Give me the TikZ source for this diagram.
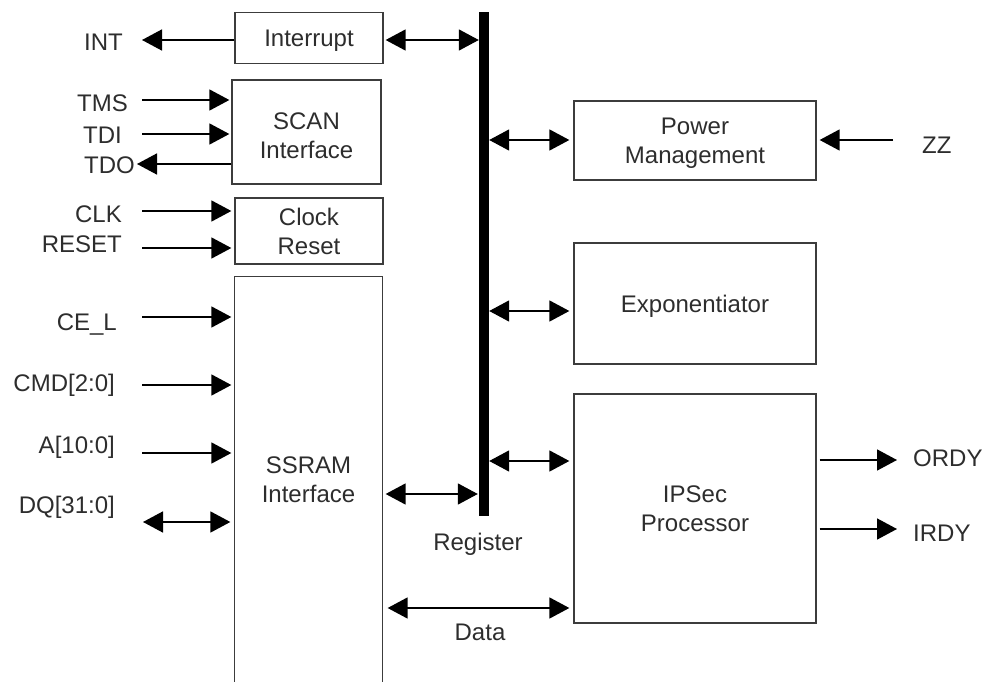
\documentclass[tikz,border=0pt]{standalone}
\usepackage{fontspec}
\setmainfont{Liberation Sans}
\usetikzlibrary{arrows.meta}
\definecolor{txt}{RGB}{45,45,45}
\definecolor{edge}{RGB}{60,60,60}
\tikzset{
  blk/.style={draw=edge, line width=1.3pt, rectangle, inner sep=0pt, align=center, text=txt, font=\fontsize{24}{29}\selectfont, text height=17.2pt, text depth=0pt},
  blk2/.style={blk, text height=46.2pt},
  lbl/.style={inner sep=0pt, text=txt, font=\fontsize{24}{29}\selectfont},
  sig/.style={line width=1.6pt, -{Triangle[length=20pt,width=21pt]}},
  bidir/.style={line width=1.6pt, {Triangle[length=20pt,width=21pt]}-{Triangle[length=20pt,width=21pt]}},
}
\begin{document}
\begin{tikzpicture}[x=1pt,y=-1pt]
\useasboundingbox (0,0) rectangle (989,682);

% blocks
\node[blk, minimum width=148pt, minimum height=51pt] (intr) at (309,38) {Interrupt};
\node[blk2, text height=54pt, minimum width=149pt, minimum height=104pt] (scan) at (306.5,132) {SCAN\\Interface};
\node[blk2, minimum width=148pt, minimum height=66pt] (clk) at (309,231) {Clock\\Reset};
\node[blk2, draw=none, minimum width=147pt, minimum height=405pt] (ssram) at (308.5,479.5) {SSRAM\\Interface};
\draw[edge, line width=1.3pt] (ssram.south west) -- (ssram.north west) -- (ssram.north east) -- (ssram.south east);
\node[blk2, minimum width=242pt, minimum height=79pt] (pow) at (695,140.5) {Power\\Management};
\node[blk, minimum width=242pt, minimum height=121pt] (expo) at (695,303.5) {Exponentiator};
\node[blk2, minimum width=242pt, minimum height=229pt] (ips) at (695,508.5) {IPSec\\Processor};
\node[fill=black, inner sep=0pt, minimum width=10pt, minimum height=504pt] (bus) at (484,264) {};

% labels
\node[lbl, anchor=base east] (lint) at (123,50.5) {INT};
\node[lbl, anchor=base east] (ltms) at (128,111.6) {TMS};
\node[lbl, anchor=base east] (ltdi) at (122,143.6) {TDI};
\node[lbl, anchor=base east] (ltdo) at (135,173.6) {TDO};
\node[lbl, anchor=base east] (lclk) at (122,222.6) {CLK};
\node[lbl, anchor=base east] (lrst) at (122,252.6) {RESET};
\node[lbl, anchor=base east] (lce) at (117,330) {CE\_L};
\node[lbl, anchor=base east] (lcmd) at (115,391) {CMD[2:0]};
\node[lbl, anchor=base east] (la) at (115,453.6) {A[10:0]};
\node[lbl, anchor=base east] (ldq) at (115,513.6) {DQ[31:0]};
\node[lbl, anchor=base west] (lzz) at (922,153.6) {ZZ};
\node[lbl, anchor=base west] (lordy) at (913,466) {ORDY};
\node[lbl, anchor=base west] (lirdy) at (913,541.6) {IRDY};
\node[lbl, anchor=base] (lreg) at (478,550.6) {Register};
\node[lbl, anchor=base] (ldata) at (480,640.6) {Data};

% free ends / levels
\coordinate (intT) at (142,40);
\coordinate (tms) at (142,100);
\coordinate (tdi) at (142,134);
\coordinate (tdo) at (137,164);
\coordinate (ck) at (142,211);
\coordinate (rs) at (142,248);
\coordinate (ce) at (142,317);
\coordinate (cmd) at (142,385);
\coordinate (aa) at (142,453);
\coordinate (dq) at (143,522);
\coordinate (yR) at (430,494);
\coordinate (yP) at (530,140);
\coordinate (yE) at (530,311);
\coordinate (yI) at (530,461);
\coordinate (yD) at (480,608);
\coordinate (zz) at (893,140);
\coordinate (ordy) at (897,460);
\coordinate (irdy) at (897,529);

% connectors
\draw[sig] (intr.west |- intT) -- (intT);
\draw[bidir, shorten <=2pt] (intr.east |- intT) -- (bus.west |- intT);
\draw[sig, shorten >=2pt] (tms) -- (tms -| scan.west);
\draw[sig, shorten >=2pt] (tdi) -- (tdi -| scan.west);
\draw[sig] (tdo -| scan.west) -- (tdo);
\draw[sig, shorten >=3pt] (ck) -- (ck -| clk.west);
\draw[sig, shorten >=3pt] (rs) -- (rs -| clk.west);
\draw[sig, shorten >=3pt] (ce) -- (ce -| ssram.west);
\draw[sig, shorten >=3pt] (cmd) -- (cmd -| ssram.west);
\draw[sig, shorten >=3pt] (aa) -- (aa -| ssram.west);
\draw[bidir, shorten >=4pt] (dq) -- (dq -| ssram.west);
\draw[bidir, shorten <=3pt, shorten >=1pt] (ssram.east |- yR) -- (bus.west |- yR);
\draw[bidir, shorten >=4pt] (bus.east |- yP) -- (pow.west |- yP);
\draw[bidir, shorten >=4pt] (bus.east |- yE) -- (expo.west |- yE);
\draw[bidir, shorten >=4pt] (bus.east |- yI) -- (ips.west |- yI);
\draw[bidir, shorten <=5pt, shorten >=4pt] (ssram.east |- yD) -- (ips.west |- yD);
\draw[sig, shorten >=3pt] (zz) -- (zz -| pow.east);
\draw[sig, shorten <=3pt] (ips.east |- ordy) -- (ordy);
\draw[sig, shorten <=3pt] (ips.east |- irdy) -- (irdy);
\end{tikzpicture}
\end{document}
